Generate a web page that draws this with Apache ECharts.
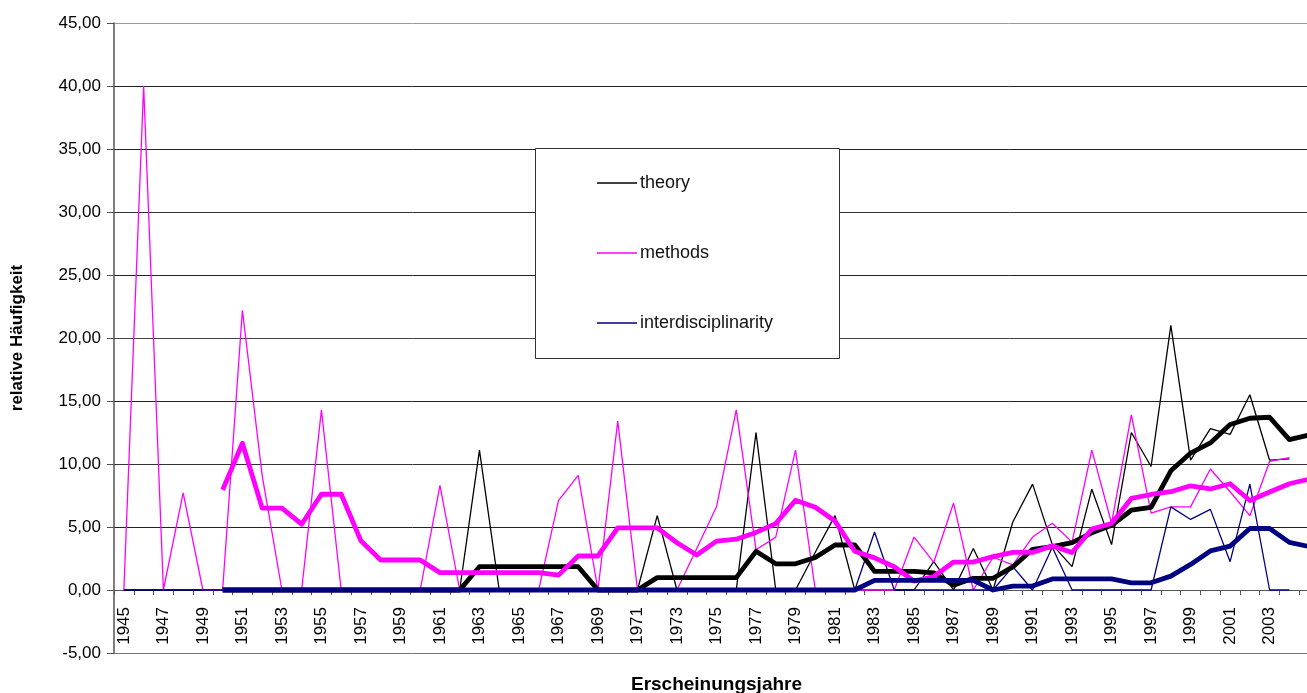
<!DOCTYPE html>
<html>
<head>
<meta charset="utf-8">
<script src="https://cdn.jsdelivr.net/npm/echarts@6/dist/echarts.min.js"></script>
<style>html,body{margin:0;padding:0;background:#fff;}#c{width:1307px;height:693px;}</style>
</head>
<body>
<div id="c"></div>
<script>
const years = ['1945','1946','1947','1948','1949','1950','1951','1952','1953','1954','1955','1956','1957','1958','1959','1960','1961','1962','1963','1964','1965','1966','1967','1968','1969','1970','1971','1972','1973','1974','1975','1976','1977','1978','1979','1980','1981','1982','1983','1984','1985','1986','1987','1988','1989','1990','1991','1992','1993','1994','1995','1996','1997','1998','1999','2000','2001','2002','2003','2004','2005'];

const theory = [
  0,0,0,0,0, 0,0,0,0,0, 0,0,0,0,0, 0,0,0,11.1,0,
  0,0,0,0,0, 0,0,5.9,0,0, 0,0,12.5,0,0, 3.0,5.9,0,0,0,
  0,2.25,0,3.3,0, 5.4,8.4,3.6,1.85,8.0, 3.6,12.5,9.8,21.0,10.3, 12.8,12.35,15.5,10.3,10.4, null];

const methods = [
  0,40,0,7.7,0, 0,22.2,9.1,0,0, 14.3,0,0,0,0, 0,8.3,0,0,0,
  0,0,7.1,9.1,0, 13.4,0,0,0,3.3, 6.6,14.3,3.2,4.2,11.1, 0,0,0,0,0,
  4.2,2.2,6.9,0,2.6, 2.0,4.2,5.3,3.8,11.1, 5.3,13.9,6.1,6.6,6.6, 9.6,7.8,5.9,10.2,10.5, null];

const interdisciplinarity = [
  0,0,0,0,0, 0,0,0,0,0, 0,0,0,0,0, 0,0,0,0,0,
  0,0,0,0,0, 0,0,0,0,0, 0,0,0,0,0, 0,0,0,4.6,0,
  0,0,0,0,0, 1.85,0,3.4,0,0, 0,0,0,6.6,5.6, 6.4,2.25,8.4,0,0, null];

const theoryAvg = [
  null,null,null,null,null, 0,0,0,0,0, 0,0,0,0,0, 0,0,0,1.85,1.85,
  1.85,1.85,1.85,1.85,0, 0,0,0.98,0.98,0.98, 0.98,0.98,3.07,2.08,2.08, 2.58,3.57,3.57,1.48,1.48,
  1.48,1.36,0.38,0.93,0.93, 1.83,3.23,3.45,3.76,4.54, 5.14,6.33,6.56,9.46,10.87, 11.67,13.13,13.63,13.71,11.94, 12.3];

const methodsAvg = [
  null,null,null,null,null, 7.95,11.65,6.5,6.5,5.22, 7.6,7.6,3.9,2.38,2.38, 2.38,1.38,1.38,1.38,1.38,
  1.38,1.38,1.18,2.7,2.7, 4.93,4.93,4.93,3.75,2.78, 3.88,4.03,4.57,5.27,7.12, 6.57,5.47,3.08,2.55,1.85,
  0.7,1.07,2.22,2.22,2.65, 2.98,2.98,3.5,2.98,4.83, 5.28,7.27,7.58,7.8,8.27, 8.02,8.43,7.1,7.78,8.43, 8.8];

const interdisciplinarityAvg = [
  null,null,null,null,null, 0,0,0,0,0, 0,0,0,0,0, 0,0,0,0,0,
  0,0,0,0,0, 0,0,0,0,0, 0,0,0,0,0, 0,0,0,0.77,0.77,
  0.77,0.77,0.77,0.77,0, 0.31,0.31,0.88,0.88,0.88, 0.88,0.57,0.57,1.1,2.03, 3.1,3.48,4.88,4.88,3.78, 3.45];

const yTicks = {min: -5, max: 45, interval: 5};

const FONT = '"Liberation Sans", Arial, sans-serif';
const chart = echarts.init(document.getElementById('c'), null, {renderer: 'canvas'});

function thin(name, data, color) {
  return {name, type: 'line', data, symbol: 'none', connectNulls: false, z: 2,
    lineStyle: {color, width: 1.3}, itemStyle: {color}, emphasis: {disabled: true}};
}
function thick(name, data, color) {
  return {name, type: 'line', data, symbol: 'none', z: 3,
    lineStyle: {color, width: 4.8, join: 'round'}, itemStyle: {color}, emphasis: {disabled: true}};
}

chart.setOption({
  animation: false,
  backgroundColor: '#ffffff',
  textStyle: {fontFamily: FONT, color: '#000'},
  grid: {left: 114, right: -12, top: 23, bottom: 40, containLabel: false, outerBoundsMode: 'none'},
  graphic: [{
    type: 'rect', z: 10, silent: true,
    shape: {x: 535.5, y: 148.5, width: 304, height: 210},
    style: {fill: '#ffffff', stroke: '#333333', lineWidth: 1}
  }],
  legend: {
    z: 11, orient: 'vertical', left: 597, top: 174, padding: 0,
    itemWidth: 40, itemHeight: 18, itemGap: 52,
    data: ['theory', 'methods', 'interdisciplinarity'],
    icon: 'path://M0,9 L40,9 L40,10.3 L0,10.3 Z',
    textStyle: {fontFamily: FONT, fontSize: 18, color: '#111', padding: [0, 0, 0, -2]},
    selectedMode: false
  },
  xAxis: {
    type: 'category', data: years, boundaryGap: true,
    name: 'Erscheinungsjahre', nameLocation: 'middle', nameGap: 22,
    nameTextStyle: {fontFamily: FONT, fontSize: 19, fontWeight: 'bold', color: '#000'},
    axisLine: {onZero: true, lineStyle: {color: '#555', width: 1}},
    axisTick: {show: true, interval: 0, length: 5, lineStyle: {color: '#555'}},
    axisLabel: {rotate: 90, margin: -46, fontSize: 17, color: '#000', fontFamily: FONT,
      interval: function (i) { return i % 2 === 0 && i < 60; }},
    splitLine: {show: false}
  },
  yAxis: {
    type: 'value', min: yTicks.min, max: yTicks.max, interval: yTicks.interval,
    name: 'relative Häufigkeit', nameLocation: 'middle', nameGap: 88,
    nameTextStyle: {fontFamily: FONT, fontSize: 17, fontWeight: 'bold', color: '#000'},
    axisLine: {show: true, lineStyle: {color: '#555', width: 1.5}},
    axisTick: {show: true, length: 7, inside: false, lineStyle: {color: '#555'}},
    axisLabel: {margin: 13, fontSize: 17, color: '#000', fontFamily: FONT,
      formatter: function (v) { return v.toFixed(2).replace('.', ','); }},
    splitLine: {show: true, lineStyle: {
      color: ['#777', '#555', '#222', '#333', '#222', '#444', '#222', '#333', '#222', '#222', '#999'],
      width: 1}}
  },
  series: [
    thin('theory', theory, '#000000'),
    thin('methods', methods, '#ff00ff'),
    thin('interdisciplinarity', interdisciplinarity, '#000080'),
    thick('theory (Durchschnitt)', theoryAvg, '#000000'),
    thick('methods (Durchschnitt)', methodsAvg, '#ff00ff'),
    thick('interdisciplinarity (Durchschnitt)', interdisciplinarityAvg, '#000080')
  ]
});
</script>
</body>
</html>
